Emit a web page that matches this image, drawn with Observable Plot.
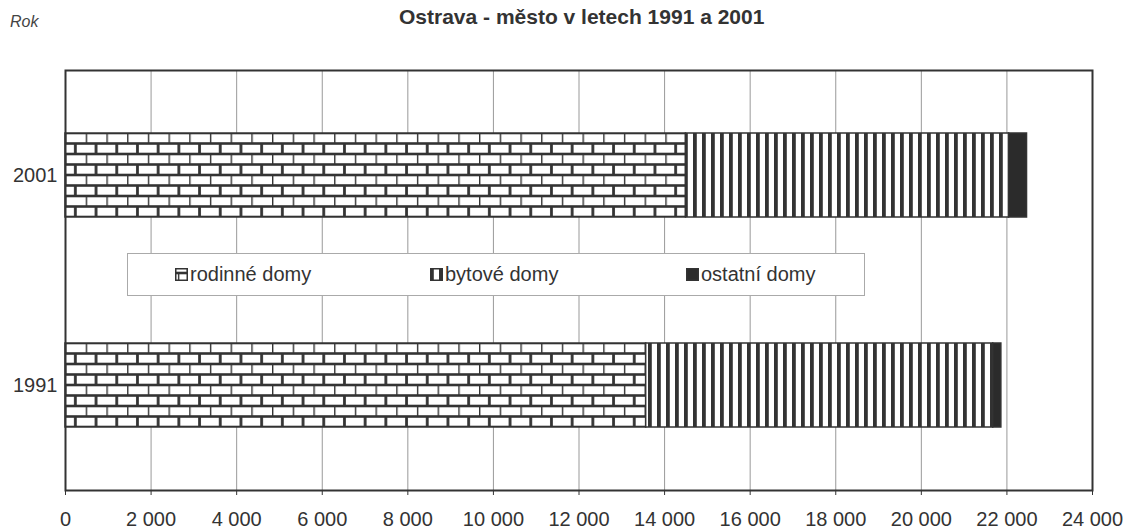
<!DOCTYPE html>
<html>
<head>
<meta charset="utf-8">
<script src="https://cdn.jsdelivr.net/npm/d3@7"></script>
<script src="https://cdn.jsdelivr.net/npm/@observablehq/plot@0.6"></script>
<style>
  html, body { margin: 0; padding: 0; background: #fff; overflow: hidden; }
  body { font-family: "Liberation Sans", Arial, sans-serif; color: #333; }
  #wrap { position: relative; width: 1133px; height: 531px; }
  #header { position: relative; height: 44px; }
  #rok { position: absolute; left: 10px; top: 13px; font-style: italic; font-size: 16px; color: #444; }
  #title { position: absolute; left: 399px; top: 5px; font-weight: bold; font-size: 21px; color: #333; white-space: nowrap; }
  #legend { position: absolute; left: 127px; top: 253px; width: 738px; height: 43px; box-sizing: border-box;
            background: #fff; border: 1px solid #aaa; font-size: 20px; color: #333; }
  .item { position: absolute; top: 0; height: 41px; white-space: nowrap; display: flex; align-items: center; }
  .item svg { margin-right: 2px; }
</style>
</head>
<body>
<div id="wrap">
  <div id="header"><span id="rok">Rok</span><span id="title">Ostrava - město v letech 1991 a 2001</span></div>
  <div id="chart"></div>
  <div id="legend"></div>
</div>
<svg width="0" height="0" style="position:absolute">
  <defs>
    <pattern id="brick" patternUnits="userSpaceOnUse" width="20.7" height="21">
      <rect width="20.7" height="21" fill="#fff"/>
      <line x1="0" y1="0" x2="20.7" y2="0" stroke="#333" stroke-width="2.6"/>
      <line x1="0" y1="10.5" x2="20.7" y2="10.5" stroke="#333" stroke-width="2.6"/>
      <line x1="0" y1="0" x2="0" y2="10.5" stroke="#333" stroke-width="2.8"/>
      <line x1="10.35" y1="10.5" x2="10.35" y2="21" stroke="#333" stroke-width="2.8"/>
      <line x1="0" y1="21" x2="20.7" y2="21" stroke="#333" stroke-width="2.6"/>
    </pattern>
    <pattern id="stripes" patternUnits="userSpaceOnUse" width="9" height="10">
      <rect width="9" height="10" fill="#fff"/>
      <rect x="0" width="3.8" height="10" fill="#333"/>
    </pattern>
  </defs>
</svg>
<script>
// ---- data ----
const years = ["2001", "1991"];
const series = ["rodinné domy", "bytové domy", "ostatní domy"];
const rodinneDomy = [14500, 13570];
const bytoveDomy = [7550, 8110];
const ostatniDomy = [420, 190];
const xTicks = [0, 2000, 4000, 6000, 8000, 10000, 12000, 14000, 16000, 18000, 20000, 22000, 24000];
const fills = ["url(#brick)", "url(#stripes)", "#2b2b2b"];

const seriesValues = [rodinneDomy, bytoveDomy, ostatniDomy];
const data = years.flatMap((year, i) =>
  series.map((type, j) => ({year, type, value: seriesValues[j][i]}))
);

const fmt = d => d3.format(",")(d).replace(/,/g, " ");

const chart = Plot.plot({
  width: 1133,
  height: 487,
  marginTop: 26,
  marginBottom: 41,
  marginLeft: 65,
  marginRight: 41,
  style: {fontFamily: "'Liberation Sans', Arial, sans-serif", fontSize: "20px", color: "#333", background: "transparent"},
  x: {domain: [xTicks[0], xTicks[xTicks.length - 1]], ticks: xTicks, tickFormat: fmt, label: null, tickSize: 5, tickPadding: 16},
  y: {domain: years, paddingInner: 0.6, paddingOuter: 0.3, label: null, tickSize: 0, tickPadding: 8},
  color: {domain: series, range: fills},
  marks: [
    Plot.gridX(xTicks, {stroke: "#999", strokeOpacity: 1, strokeWidth: 1}),
    Plot.barX(data, Plot.stackX({x: "value", y: "year", fill: "type", stroke: "#333", strokeWidth: 1.5})),
    Plot.frame({stroke: "#333", strokeWidth: 2})
  ]
});
document.getElementById("chart").appendChild(chart);

// align brick pattern rows to the bar top
const ys = chart.scale("y");
document.getElementById("brick").setAttribute("y", ys.apply(years[0]));
document.getElementById("brick").setAttribute("x", chart.scale("x").apply(0));

// legend
const legend = document.getElementById("legend");
const itemLeft = [47, 302, 558];
series.forEach((s, i) => {
  const div = document.createElement("div");
  div.className = "item";
  div.style.left = itemLeft[i] + "px";
  div.innerHTML = `<svg width="13" height="13"><rect x="0.75" y="0.75" width="11.5" height="11.5" fill="${fills[i]}" stroke="#333" stroke-width="1.5"/></svg><span>${s}</span>`;
  legend.appendChild(div);
});
</script>
</body>
</html>
